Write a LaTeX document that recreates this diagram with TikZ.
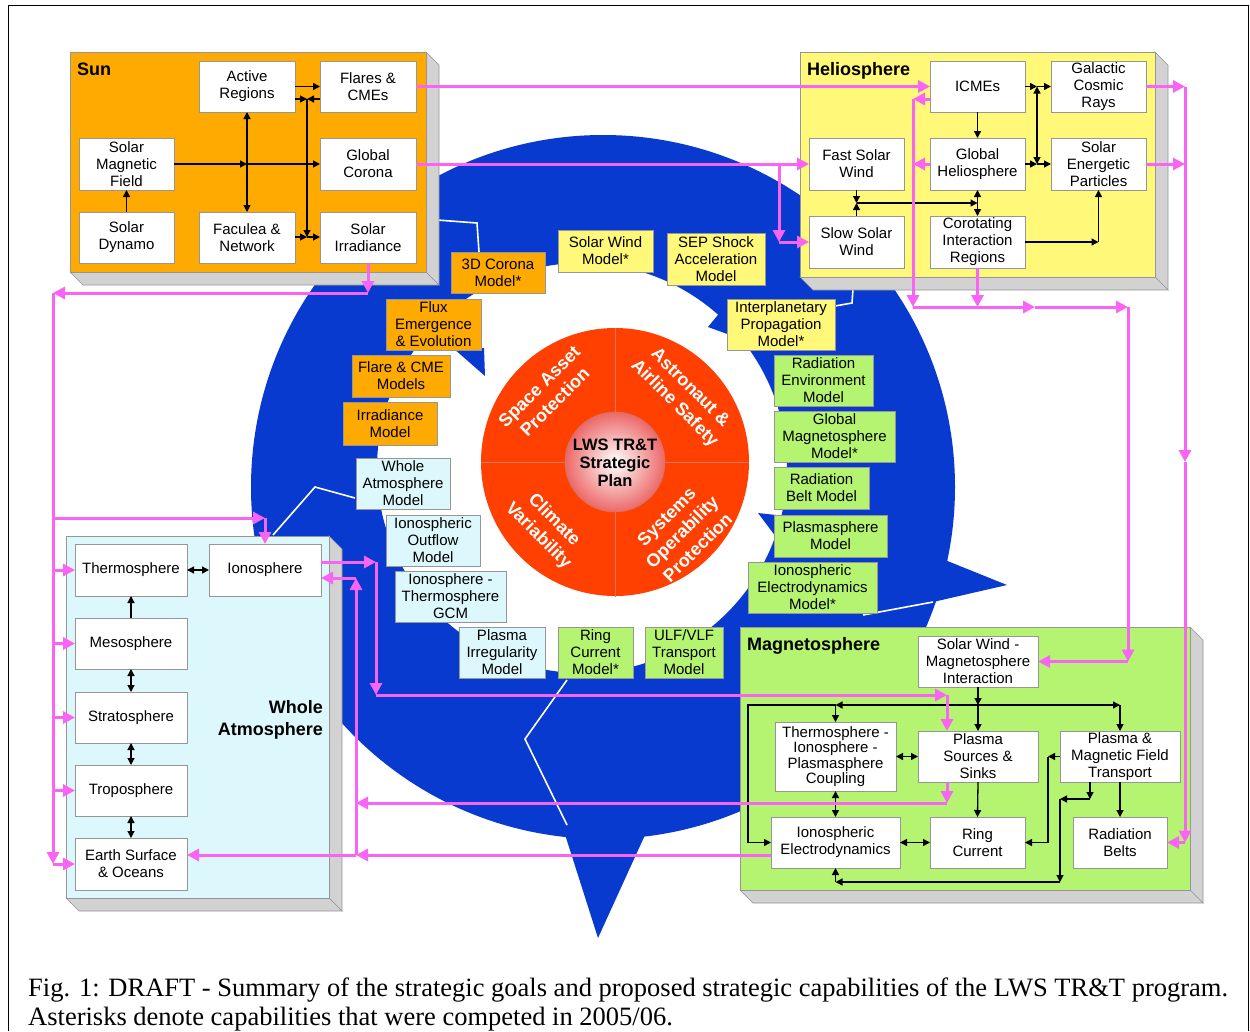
\documentclass[tikz,border=0pt]{standalone}
\usepackage{fontspec}
\setmainfont{Liberation Sans}
\newfontfamily\capfont{Liberation Serif}
\usetikzlibrary{arrows.meta}
\definecolor{sunc}{RGB}{255,170,0}
\definecolor{helc}{RGB}{255,248,120}
\definecolor{atmc}{RGB}{220,248,252}
\definecolor{magc}{RGB}{181,244,112}
\definecolor{ringc}{RGB}{8,58,208}
\definecolor{pinkc}{RGB}{250,100,245}
\definecolor{redc}{RGB}{255,64,0}
\definecolor{depthc}{RGB}{210,210,210}
\definecolor{edgec}{RGB}{150,150,150}
\definecolor{spherec}{RGB}{236,104,104}
\definecolor{qlinec}{RGB}{205,120,100}
\newcommand{\mybox}[7]{\node[#1, minimum width={(#5-#3)*1pt}, minimum height={(#6-#4)*1pt}] (#2) at ({(#3+#5)/2},{(#4+#6)/2}) {#7};}
\newcommand{\mypanel}[5]{%
  \filldraw[fill=depthc, draw=edgec, line width=0.6pt] (#4,#3) -- (#4+13,#3+13) -- (#4+13,#5+13) -- (#4,#5) -- cycle;
  \filldraw[fill=depthc, draw=edgec, line width=0.6pt] (#2,#5) -- (#4,#5) -- (#4+13,#5+13) -- (#2+13,#5+13) -- cycle;
  \filldraw[fill=#1, draw=edgec, line width=0.6pt] (#2,#3) rectangle (#4,#5);}
\tikzset{
  wbox/.style={draw=edgec, fill=white, line width=0.6pt, inner sep=0pt, outer sep=0pt, align=center, font=\fontsize{15}{17}\selectfont},
  mbox/.style={wbox, fill=#1},
  blk/.style={line width=1.3pt, -{Triangle[length=7pt,width=7pt]}},
  blkd/.style={line width=1.3pt, {Triangle[length=7pt,width=7pt]}-{Triangle[length=7pt,width=7pt]}},
  blkn/.style={line width=1.3pt},
  pk/.style={pinkc, line width=3pt, -{Triangle[length=12pt,width=12pt]}},
  pkn/.style={pinkc, line width=3pt},
  ptitle/.style={font=\bfseries\fontsize{18}{21.5}\selectfont, inner sep=0pt},
  qtext/.style={text=white, font=\bfseries\fontsize{18}{22}\selectfont, align=center, inner sep=0pt},
  wline/.style={white, line width=1.6pt},
}
\begin{document}
\begin{tikzpicture}[x=1pt,y=-1pt]
\useasboundingbox (0,0) rectangle (1250,1031);
\fill[white] (0,0) rectangle (1250,1031);
\draw[line width=1pt] (8,1031) -- (8,5) -- (1248,5) -- (1248,1031);

% ---------- blue circular arrows ----------
\fill[ringc, even odd rule] (603,487) circle[radius=352] (582,468) circle[radius=205];
\fill[ringc] (945,560) -- (1007,585) -- (933,602) -- cycle;
\fill[ringc] (453,348) -- (485,376) -- (484,348) -- cycle;
\fill[ringc] (708,327) -- (730,300) -- (730,335) -- cycle;
\fill[ringc] (758,513) -- (776,515) -- (776,537) -- cycle;
\fill[ringc] (562,825) -- (598,938) -- (645,835) -- cycle;
\draw[wline] (437,220) -- (477,223) -- (479,252);
\draw[wline] (355,498) -- (315,487) -- (273,535);
\draw[wline] (567,680) -- (525,739) -- (567,825);
\draw[wline] (835,306) -- (852,303) -- (853,289);
\draw[wline] (863,615) -- (933,602);

% ---------- panels ----------
\mypanel{sunc}{70}{52}{426}{272}
\mypanel{helc}{800}{52}{1155}{277}
\mypanel{atmc}{66}{536}{329}{898}
\mypanel{magc}{740}{627}{1190}{890}
\node[ptitle, anchor=base west] (tsun) at (77,75) {Sun};
\node[ptitle, anchor=base west] (thel) at (807,75) {Heliosphere};
\node[ptitle, anchor=base west] (tmag) at (747,650) {Magnetosphere};
\node[ptitle, anchor=base east] (tatm1) at (323,713) {Whole};
\node[ptitle, anchor=base east] (tatm2) at (323,735) {Atmosphere};

% ---------- model boxes ----------
\mybox{mbox=sunc}{m3d}{451}{252}{545}{293}{3D Corona\\Model*}
\mybox{mbox=sunc}{mflux}{386}{299}{481}{350}{Flux\\Emergence\\\& Evolution}
\mybox{mbox=sunc}{mflare}{352}{355}{450}{397}{Flare \& CME\\Models}
\mybox{mbox=sunc}{mirr}{343}{402}{437}{445}{Irradiance\\Model}
\mybox{mbox=helc}{msw}{558}{230}{653}{272}{Solar Wind\\Model*}
\mybox{mbox=helc}{msep}{667}{233}{765}{285}{SEP Shock\\Acceleration\\Model}
\mybox{mbox=helc}{mip}{727}{299}{835}{350}{Interplanetary\\Propagation\\Model*}
\mybox{mbox=magc}{mre}{774}{355}{873}{406}{Radiation\\Environment\\Model}
\mybox{mbox=magc}{mgm}{774}{411}{895}{462}{Global\\Magnetosphere\\Model*}
\mybox{mbox=magc}{mrb}{774}{467}{869}{509}{Radiation\\Belt Model}
\mybox{mbox=magc}{mps}{774}{515}{887}{557}{Plasmasphere\\Model}
\mybox{mbox=magc}{mied}{748}{562}{877}{613}{Ionospheric\\Electrodynamics\\Model*}
\mybox{mbox=magc}{mrc}{558}{627}{633}{678}{Ring\\Current\\Model*}
\mybox{mbox=magc}{mulf}{645}{627}{723}{678}{ULF/VLF\\Transport\\Model}
\mybox{mbox=atmc}{mwa}{356}{458}{450}{509}{Whole\\Atmosphere\\Model}
\mybox{mbox=atmc}{mio}{386}{515}{480}{566}{Ionospheric\\Outflow\\Model}
\mybox{mbox=atmc}{mgcm}{395}{571}{506}{622}{Ionosphere -\\Thermosphere\\GCM}
\mybox{mbox=atmc}{mpi}{459}{627}{545}{678}{Plasma\\Irregularity\\Model}

% ---------- central goals ----------
\fill[redc] (615,462) circle[radius=134];
\draw[qlinec, line width=0.8pt] (481,462) -- (749,462);
\draw[qlinec, line width=0.8pt] (615,328) -- (615,597);
\shade[inner color=white, outer color=spherec] (615,462) circle[radius=50];
\draw[qlinec, line width=0.6pt] (615,462) circle[radius=50];
\node[align=center, inner sep=0pt, font=\bfseries\fontsize{16.5}{18.3}\selectfont] (lws) at (615,463) {LWS TR\&T\\Strategic\\Plan};
\node[qtext, rotate=45] (gsap) at (547,394) {Space Asset\\Protection};
\node[qtext, rotate=-45] (gaas) at (682,396) {Astronaut \&\\Airline Safety};
\node[qtext, rotate=-45] (gcv) at (546,528) {Climate\\Variability};
\node[qtext, rotate=45] (gsop) at (682,532) {Systems\\Operability\\Protection};

% ---------- Sun boxes ----------
\mybox{wbox}{AR}{199}{61}{295}{112}{Active\\Regions}
\mybox{wbox}{FC}{320}{61}{416}{112}{Flares \&\\CMEs}
\mybox{wbox}{SMF}{79}{138}{174}{190}{Solar\\Magnetic\\Field}
\mybox{wbox}{GC}{320}{138}{416}{190}{Global\\Corona}
\mybox{wbox}{SD}{79}{212}{174}{263}{Solar\\Dynamo}
\mybox{wbox}{FN}{199}{212}{295}{263}{Faculea \&\\Network}
\mybox{wbox}{SI}{320}{212}{416}{263}{Solar\\Irradiance}

% ---------- Heliosphere boxes ----------
\mybox{wbox}{ICM}{930}{61}{1025}{112}{ICMEs}
\mybox{wbox}{GCR}{1051}{61}{1146}{112}{Galactic\\Cosmic\\Rays}
\mybox{wbox}{FSW}{809}{138}{904}{190}{Fast Solar\\Wind}
\mybox{wbox}{GH}{930}{138}{1025}{190}{Global\\Heliosphere}
\mybox{wbox}{SEP}{1051}{138}{1146}{190}{Solar\\Energetic\\Particles}
\mybox{wbox}{SSW}{809}{216}{904}{268}{Slow Solar\\Wind}
\mybox{wbox}{CIR}{930}{216}{1025}{268}{Corotating\\Interaction\\Regions}

% ---------- Whole Atmosphere boxes ----------
\mybox{wbox}{TH}{75}{544}{187}{596}{Thermosphere}
\mybox{wbox}{IO}{209}{544}{321}{596}{Ionosphere}
\mybox{wbox}{ME}{75}{618}{187}{669}{Mesosphere}
\mybox{wbox}{ST}{75}{692}{187}{743}{Stratosphere}
\mybox{wbox}{TR}{75}{765}{187}{816}{Troposphere}
\mybox{wbox}{ES}{75}{838}{187}{890}{Earth Surface\\\& Oceans}

% ---------- Magnetosphere boxes ----------
\mybox{wbox}{SWMI}{918}{636}{1038}{687}{Solar Wind -\\Magnetosphere\\Interaction}
\mybox{wbox, font=\fontsize{15}{15.3}\selectfont}{TIPC}{775}{722}{896}{791}{Thermosphere -\\Ionosphere -\\Plasmasphere\\Coupling}
\mybox{wbox}{PSS}{918}{731}{1038}{782}{Plasma\\Sources \&\\Sinks}
\mybox{wbox}{PMFT}{1060}{731}{1180}{782}{Plasma \&\\Magnetic Field\\Transport}
\mybox{wbox}{IE}{771}{817}{900}{868}{Ionospheric\\Electrodynamics}
\mybox{wbox}{RC}{930}{817}{1025}{868}{Ring\\Current}
\mybox{wbox}{RB}{1073}{817}{1167}{868}{Radiation\\Belts}

% ---------- black arrows: Sun ----------
\coordinate (jA) at (307,99);
\coordinate (jB) at (307,237);
\coordinate (jC) at (247,164);
\draw[blk] (AR.east) -- (FC.west);
\draw[blk] (AR.east |- jA) -- (jA);
\draw[blk] (FC.west |- jA) -- (jA);
\draw[blk] (jA) -- (jB);
\draw[blk] (FN.east |- jB) -- (jB);
\draw[blk] (jB) -- (SI.west |- jB);
\draw[blkd] (AR.south) -- (FN.north);
\draw[blk] (SMF.east) -- (jC);
\draw[blk] (jC) -- (GC.west);
\draw[blk] (SD.north) -- (SMF.south);

% ---------- black arrows: Heliosphere ----------
\coordinate (jD) at (1037,86.5);
\coordinate (jE) at (1037,164);
\coordinate (jF) at (856.5,203);
\coordinate (jG) at (977.5,203);
\draw[blk] (ICM.east) -- (jD);
\draw[blk] (jD) -- (GCR.west);
\draw[blk] (GH.east) -- (jE);
\draw[blk] (jE) -- (SEP.west);
\draw[blkd] (jD) -- (jE);
\draw[blk] (ICM.south) -- (GH.north);
\draw[blk] (FSW.south) -- (jF);
\draw[blk] (SSW.north) -- (jF);
\draw[blk] (jF) -- (jG);
\draw[blkd] (GH.south) -- (CIR.north);
\draw[blk] (CIR.east) -- (SEP.south |- CIR.east);
\draw[blk] (SEP.south |- CIR.east) -- (SEP.south);

% ---------- black arrows: Whole Atmosphere ----------
\draw[blkd] (TH.east) -- (IO.west);
\draw[blk] (ME.north) -- (TH.south);
\draw[blkd] (ME.south) -- (ST.north);
\draw[blkd] (ST.south) -- (TR.north);
\draw[blkd] (TR.south) -- (ES.north);

% ---------- black arrows: Magnetosphere ----------
\coordinate (jM) at (978,705);
\coordinate (jL) at (835.5,705);
\coordinate (jR) at (1120,705);
\coordinate (jK1) at (748,705);
\coordinate (jK2) at (748,842.5);
\draw[blk] (SWMI.south) -- (jM);
\draw[blk] (jM) -- (PSS.north);
\draw[blk] (jM) -- (jL);
\draw[blkn] (jL) -- (jK1) -- (jK2);
\draw[blk] (jK2) -- (IE.west);
\draw[blk] (jL) -- (TIPC.north);
\draw[blk] (jM) -- (jR);
\draw[blk] (jR) -- (PMFT.north);
\draw[blkd] (TIPC.east) -- (PSS.west);
\draw[blkd] (TIPC.south) -- (IE.north);
\draw[blkd] (IE.east) -- (RC.west);
\draw[blk] (PSS.south) -- (RC.north);
\draw[blk] (PMFT.south) -- (RB.north);
\coordinate (jP) at (1048,756.5);
\coordinate (jP2) at (1048,842.5);
\draw[blk] (PMFT.west) -- (jP);
\draw[blkn] (jP) -- (jP2);
\draw[blk] (jP2) -- (RC.east);
\coordinate (jQ1) at (1090,799);
\coordinate (jQ2) at (1060,799);
\coordinate (jQ3) at (1060,882);
\coordinate (jQ4) at (835.5,882);
\draw[blk] (jQ1 |- PMFT.south) -- (jQ1);
\draw[blk] (jQ1) -- (jQ2);
\draw[blk] (jQ2) -- (jQ3);
\draw[blk] (jQ3) -- (jQ4);
\draw[blk] (jQ4) -- (IE.south);

% ---------- pink connectors ----------
\draw[pk] (FC.east) -- (ICM.west);
\coordinate (pK) at (779,164);
\draw[pk] (GC.east) -- (FSW.west);
\draw[pk] (pK) -- (pK |- SSW.west);
\draw[pk] (pK |- SSW.west) -- (SSW.west);

\coordinate (pA) at (368,293);
\coordinate (pB) at (53,293);
\coordinate (pC) at (53,864);
\coordinate (pD) at (53,518);
\coordinate (pE) at (265,518);
\draw[pk] (SI.south) -- (pA);
\draw[pk] (pA) -- (pB);
\draw[pk] (pB) -- (pC);
\draw[pk] (pB |- TH.west) -- (TH.west);
\draw[pk] (pB |- ME.west) -- (ME.west);
\draw[pk] (pB |- ST.west) -- (ST.west);
\draw[pk] (pB |- TR.west) -- (TR.west);
\draw[pk] (pB |- ES.west) -- (ES.west);
\draw[pk] (pD) -- (pE);
\draw[pk] (pE) -- (IO.north);

\coordinate (pF) at (376,562);
\coordinate (pG) at (376,695);
\coordinate (pH) at (947,695);
\draw[pk] ([yshift=8pt]IO.east) -- (pF);
\draw[pk] (pF) -- (pG);
\draw[pk] (pG) -- (pH);
\draw[pk] (pH) -- (pH |- PSS.north);

\coordinate (pI) at (947,803);
\coordinate (pJ) at (356,803);
\coordinate (pL) at (356,855);
\coordinate (pM) at (356,578);
\draw[pk] (pI |- PSS.south) -- (pI);
\draw[pk] (pI) -- (pJ);
\draw[pk] ([yshift=-12.5pt]IE.west) -- (pL);
\draw[pk] (pL) -- (pL -| ES.east);
\draw[pk] (pL) -- (pM);
\draw[pk] (pM) -- (pM -| IO.east);

\coordinate (pN) at (913,99);
\coordinate (pO) at (913,307);
\coordinate (pP) at (1035,307);
\coordinate (pQ) at (1128,307);
\coordinate (pR) at (1128,661.5);
\draw[pk] ([yshift=-12.5pt]ICM.west) -- (pN);
\draw[pk] (GH.west) -- (pN |- GH.west);
\draw[pk] (pN) -- (pO);
\draw[pk] (CIR.south) -- (CIR.south |- pO);
\draw[pk] (pO) -- (pP);
\draw[pk] (pP) -- (pQ);
\draw[pk] (pQ) -- (pR);
\draw[pk] (pR) -- (SWMI.east);

\coordinate (pS) at (1185,86.5);
\coordinate (pT) at (1185,462);
\coordinate (pU) at (1185,842.5);
\draw[pk] (GCR.east) -- (pS);
\draw[pk] (SEP.east) -- (pS |- SEP.east);
\draw[pk] (pS) -- (pT);
\draw[pk] (pT) -- (pU);
\draw[pk] (pU) -- (RB.east);

% ---------- caption ----------
\node[anchor=base west, inner sep=0pt, font=\capfont\fontsize{26.5}{30}\selectfont] (cap1) at (28,996) {Fig. 1: DRAFT - Summary of the strategic goals and proposed strategic capabilities of the LWS TR\&T program.};
\node[anchor=base west, inner sep=0pt, font=\capfont\fontsize{26.5}{30}\selectfont] (cap2) at (28,1025) {Asterisks denote capabilities that were competed in 2005/06.};
\end{tikzpicture}
\end{document}
